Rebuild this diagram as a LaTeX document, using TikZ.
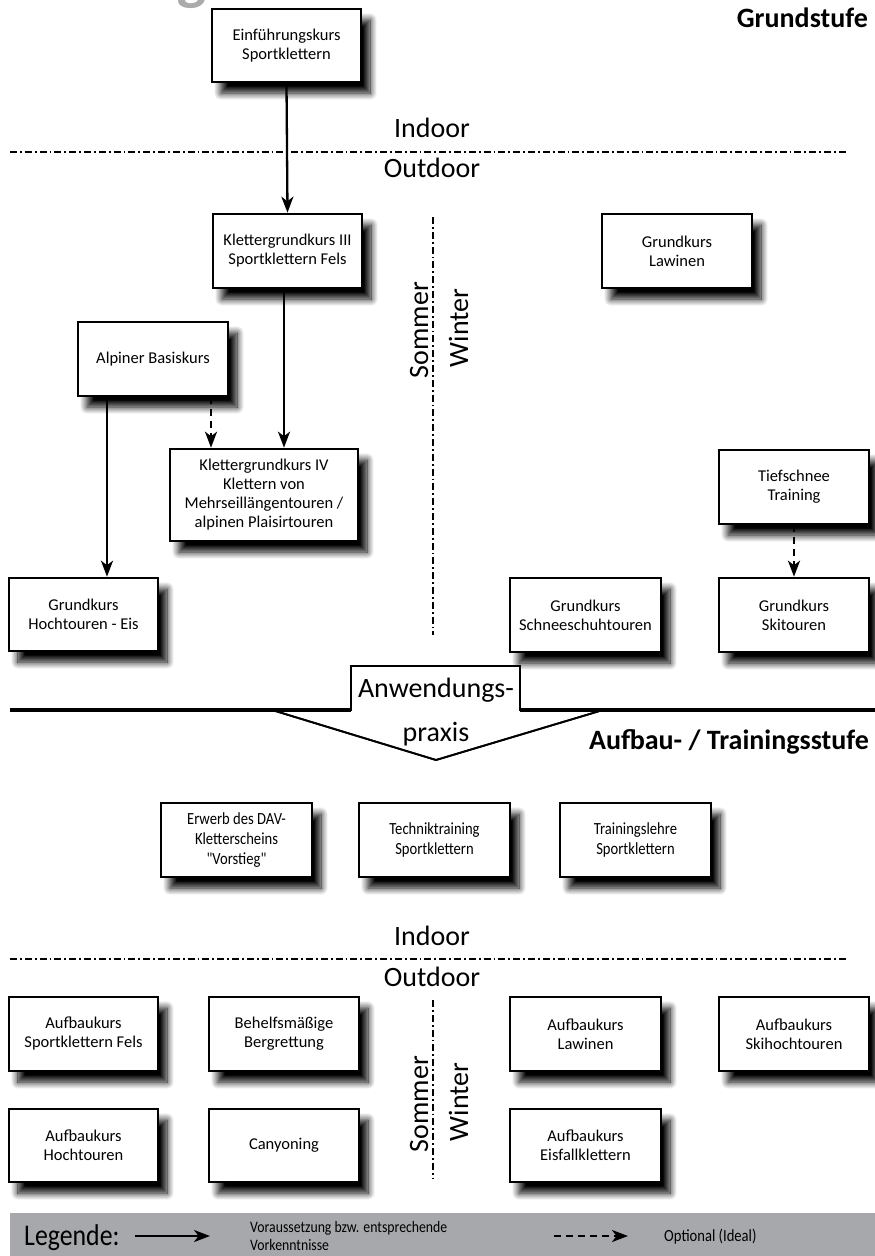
\documentclass[tikz,border=0pt]{standalone}
\usepackage{fontspec}
\setmainfont{Carlito}
\newfontfamily\condfont[FakeStretch=0.86]{Carlito}
\usetikzlibrary{arrows.meta,shadows.blur}
\definecolor{legendgray}{HTML}{A7A8AB}
\definecolor{titlegray}{HTML}{ABABAB}
\tikzset{
  box/.style={draw=black, line width=2.6pt, fill=white, align=center, inner sep=2pt,
    font=\fontsize{16.5}{19}\selectfont,
    blur shadow={shadow xshift=9pt, shadow yshift=-11pt, shadow blur radius=7pt,
                 shadow blur steps=12, shadow opacity=100}},
  condbox/.style={box, font=\condfont\fontsize{17}{20}\selectfont},
  arr/.style={line width=2.3pt, -{Stealth[length=16pt,width=12pt,inset=4.5pt]}},
  darr/.style={arr, dash pattern=on 7pt off 5pt},
  divider/.style={line width=2.3pt, dash pattern=on 7pt off 3pt on 1.8pt off 3pt},
  biglabel/.style={font=\fontsize{28}{30}\selectfont, inner sep=0},
  stagetitle/.style={font=\bfseries\fontsize{28}{30}\selectfont, inner sep=0},
}
\begin{document}
\begin{tikzpicture}[x=1pt,y=-1pt]
\useasboundingbox (0,0) rectangle (875,1256);
\begin{scope}
  \clip (0,0) rectangle (875,1256);
  \node[anchor=base west, text=titlegray, font=\bfseries\itshape\fontsize{60}{60}\selectfont, inner sep=0] (ttl) at (179,-2) {g};
\end{scope}

% ---------- titles ----------
\node[stagetitle, anchor=base east] (grund) at (868,27) {Grundstufe};
\node[stagetitle, anchor=base east] (aufbau) at (869,749) {Aufbau- / Trainingsstufe};

% ---------- dividers (top section) ----------
\coordinate (l1a) at (10,152); \coordinate (l1b) at (848,152);
\draw[divider] (l1a) -- (l1b);
\node[biglabel, anchor=base] (in1) at (432,137) {Indoor};
\node[biglabel, anchor=base] (out1) at (432,177) {Outdoor};
\coordinate (v1a) at (433,217); \coordinate (v1b) at (433,635);
\draw[divider] (v1a) -- (v1b);
\node[biglabel, rotate=90, anchor=base] (som1) at (428,330) {Sommer};
\node[biglabel, rotate=90, anchor=base] (win1) at (468,328) {Winter};

% ---------- boxes (Grundstufe) ----------
\node[box, minimum width=149pt, minimum height=73pt] (ein) at (286.5,45.5) {Einführungskurs\\Sportklettern};
\node[box, minimum width=149pt, minimum height=74pt] (kg3) at (287.5,251) {Klettergrundkurs III\\Sportklettern Fels};
\node[box, minimum width=150pt, minimum height=74pt] (law) at (677,251) {Grundkurs\\Lawinen};
\node[box, minimum width=150pt, minimum height=74pt] (alp) at (153,359) {Alpiner Basiskurs};
\node[box, minimum width=188pt, minimum height=92pt] (kg4) at (264,495) {Klettergrundkurs IV\\Klettern von\\Mehrseillängentouren /\\alpinen Plaisirtouren};
\node[box, minimum width=150pt, minimum height=74pt] (tief) at (794,487) {Tiefschnee\\Training};
\node[box, minimum width=149pt, minimum height=73pt] (hoch) at (83.5,614.5) {Grundkurs\\Hochtouren - Eis};
\node[box, minimum width=151pt, minimum height=74pt] (schnee) at (585.5,615) {Grundkurs\\Schneeschuhtouren};
\node[box, minimum width=150pt, minimum height=74pt] (ski) at (794,615) {Grundkurs\\Skitouren};

% ---------- connectors (Grundstufe) ----------
\coordinate (c284) at (284,0);
\coordinate (c211) at (211,0);
\coordinate (c107) at (107,0);
\draw[arr] (ein.south) -- (kg3.north);
\draw[arr] (kg3.south -| c284) -- (kg4.north -| c284);
\draw[darr] (alp.south -| c211) -- (kg4.north -| c211);
\draw[arr] (alp.south -| c107) -- (hoch.north -| c107);
\draw[darr] (tief.south) -- (ski.north);

% ---------- Anwendungspraxis ----------
\coordinate (ha) at (10,710); \coordinate (hb) at (351,710);
\coordinate (hc) at (520,710); \coordinate (hd) at (875,710);
\coordinate (pA) at (272,710); \coordinate (pB) at (351,710);
\coordinate (pC) at (351,666); \coordinate (pD) at (520,666);
\coordinate (pE) at (520,710); \coordinate (pF) at (603,710);
\coordinate (pT) at (436,760);
\draw[line width=1.8pt, fill=white, line join=miter] (pB) -- (pC) -- (pD) -- (pE) -- (pF) -- (pT) -- (pA) -- cycle;
\draw[line width=4pt] (ha) -- (hb);
\draw[line width=4pt] (hc) -- (hd);
\fill[white] (352.5,704) rectangle (518.5,716);
\draw[line width=1.8pt] (pA) -- (pT) -- (pF);
\node[biglabel, anchor=base] (anw1) at (436,697) {Anwendungs-};
\node[biglabel, anchor=base] (anw2) at (436,741) {praxis};

% ---------- Aufbau: indoor boxes ----------
\node[condbox, minimum width=151pt, minimum height=74pt] (dav) at (236.5,840) {Erwerb des DAV-\\Kletterscheins\\"Vorstieg"};
\node[condbox, minimum width=151pt, minimum height=74pt] (tech) at (434.5,840) {Techniktraining\\Sportklettern};
\node[condbox, minimum width=151pt, minimum height=74pt] (tlehre) at (635.5,840) {Trainingslehre\\Sportklettern};

\coordinate (l2a) at (10,959); \coordinate (l2b) at (848,959);
\draw[divider] (l2a) -- (l2b);
\node[biglabel, anchor=base] (in2) at (432,945) {Indoor};
\node[biglabel, anchor=base] (out2) at (432,986) {Outdoor};

\coordinate (v2a) at (433,1000); \coordinate (v2b) at (433,1178);
\draw[divider] (v2a) -- (v2b);
\node[biglabel, rotate=90, anchor=base] (som2) at (428,1104) {Sommer};
\node[biglabel, rotate=90, anchor=base] (win2) at (468,1102) {Winter};

% ---------- Aufbau: outdoor boxes ----------
\node[box, minimum width=149pt, minimum height=74pt] (asf) at (83.5,1034) {Aufbaukurs\\Sportklettern Fels};
\node[box, minimum width=150pt, minimum height=74pt] (bberg) at (284,1034) {Behelfsmäßige\\Bergrettung};
\node[box, minimum width=151pt, minimum height=74pt] (alaw) at (585.5,1034) {Aufbaukurs\\Lawinen};
\node[box, minimum width=150pt, minimum height=74pt] (aski) at (794,1034) {Aufbaukurs\\Skihochtouren};
\node[box, minimum width=149pt, minimum height=73pt] (ahoch) at (83.5,1145.5) {Aufbaukurs\\Hochtouren};
\node[box, minimum width=150pt, minimum height=73pt] (canyon) at (284,1145.5) {Canyoning};
\node[box, minimum width=151pt, minimum height=73pt] (aeis) at (585.5,1145.5) {Aufbaukurs\\Eisfallklettern};

% ---------- legend ----------
\fill[legendgray] (10,1213) rectangle (875,1256);
\node[anchor=base west, inner sep=0, font=\condfont\fontsize{30}{30}\selectfont] (leg) at (24,1245) {Legende:};
\coordinate (la1) at (135,1236); \coordinate (la2) at (210,1236);
\draw[arr] (la1) -- (la2);
\node[anchor=west, inner sep=0, align=left, font=\condfont\fontsize{16}{18}\selectfont] (legt1) at (250,1236) {Voraussetzung bzw. entsprechende\\Vorkenntnisse};
\coordinate (lb1) at (554,1236); \coordinate (lb2) at (628,1236);
\draw[darr] (lb1) -- (lb2);
\node[anchor=west, inner sep=0, font=\condfont\fontsize{17}{19}\selectfont] (legt2) at (664,1237) {Optional (Ideal)};
\end{tikzpicture}
\end{document}
